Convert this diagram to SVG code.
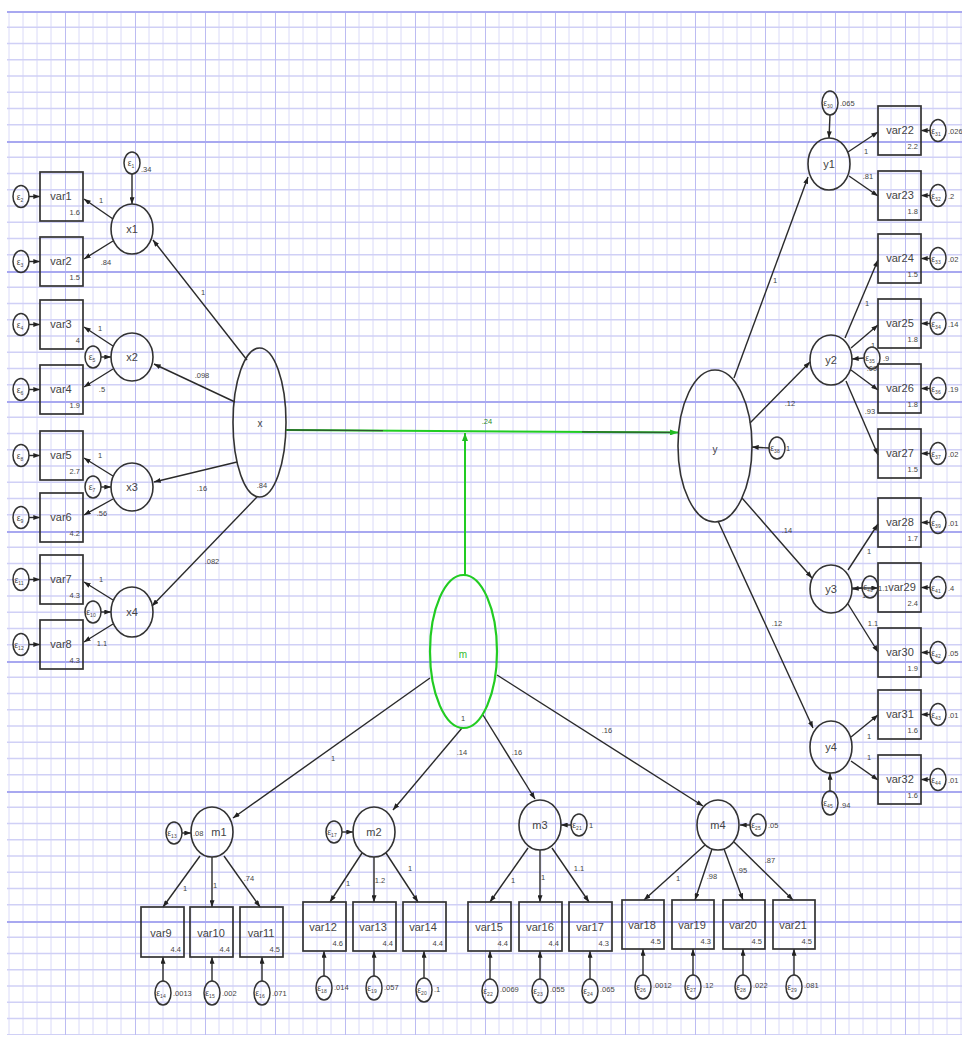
<svg xmlns="http://www.w3.org/2000/svg" width="962" height="1043" viewBox="0 0 962 1043">
<defs>
<pattern id="grid" x="-5" y="11" width="70" height="130" patternUnits="userSpaceOnUse">
<g stroke="#dadaf8" stroke-width="1">
<line x1="14" y1="0" x2="14" y2="130"/><line x1="28" y1="0" x2="28" y2="130"/><line x1="42" y1="0" x2="42" y2="130"/><line x1="56" y1="0" x2="56" y2="130"/>
</g>
<g stroke="#d0d0f6" stroke-width="1.6">
<line x1="0" y1="16.25" x2="70" y2="16.25"/><line x1="0" y1="32.5" x2="70" y2="32.5"/><line x1="0" y1="48.75" x2="70" y2="48.75"/><line x1="0" y1="65" x2="70" y2="65"/><line x1="0" y1="81.25" x2="70" y2="81.25"/><line x1="0" y1="97.5" x2="70" y2="97.5"/><line x1="0" y1="113.75" x2="70" y2="113.75"/>
</g>
<line x1="0.5" y1="0" x2="0.5" y2="130" stroke="#bcbcf2" stroke-width="1"/>
<line x1="0" y1="1" x2="70" y2="1" stroke="#a8a8f0" stroke-width="2"/>
</pattern>
<marker id="ah" viewBox="0 0 8 6" markerWidth="7" markerHeight="5" refX="8" refY="3" orient="auto" markerUnits="userSpaceOnUse"><path d="M0,0 L8,3 L0,6 z" fill="#222"/></marker>
<marker id="ahg" viewBox="0 0 8 6" markerWidth="8" markerHeight="6" refX="8" refY="3" orient="auto" markerUnits="userSpaceOnUse"><path d="M0,0 L8,3 L0,6 z" fill="#22bb22"/></marker>
<style>
.box{fill:none;stroke:#333;stroke-width:1.7}
.lat{fill:none;stroke:#333;stroke-width:1.6}
.err{fill:none;stroke:#333;stroke-width:1.5}
.ln{stroke:#2a2a2a;stroke-width:1.4;fill:none;marker-end:url(#ah)}
.gl{stroke:#22cc22;stroke-width:2;fill:none;marker-end:url(#ahg)}
text{font-family:"Liberation Sans",Arial,sans-serif;fill:#444}
.nm{font-size:11px;text-anchor:middle}
.val{font-size:7.5px;text-anchor:end}
.w{font-size:7.5px;text-anchor:middle}
.wl{font-size:7.5px}
.eps{font-size:8.5px;text-anchor:middle}
.sub{font-size:5px}
</style>
</defs>
<rect x="0" y="0" width="962" height="1043" fill="#fff"/>
<rect x="7" y="11" width="955" height="1024" fill="url(#grid)"/>

<g id="connectors">
<line class="ln" x1="247" y1="360" x2="153" y2="240"/>
<line class="ln" x1="235" y1="402" x2="154" y2="364"/>
<line class="ln" x1="237" y1="462" x2="154" y2="482"/>
<line class="ln" x1="257" y1="497" x2="152" y2="606"/>
<line class="ln" x1="113" y1="219" x2="84" y2="199"/>
<line class="ln" x1="113" y1="241" x2="84" y2="259"/>
<line class="ln" x1="113" y1="346" x2="84" y2="327"/>
<line class="ln" x1="113" y1="369" x2="84" y2="387"/>
<line class="ln" x1="113" y1="476" x2="84" y2="458"/>
<line class="ln" x1="113" y1="499" x2="84" y2="515"/>
<line class="ln" x1="113" y1="600" x2="84" y2="582"/>
<line class="ln" x1="113" y1="624" x2="84" y2="642"/>
<line class="ln" x1="29" y1="196.5" x2="40" y2="196.5"/>
<line class="ln" x1="29" y1="261.5" x2="40" y2="261.5"/>
<line class="ln" x1="29" y1="324.5" x2="40" y2="324.5"/>
<line class="ln" x1="29" y1="389.5" x2="40" y2="389.5"/>
<line class="ln" x1="29" y1="455.5" x2="40" y2="455.5"/>
<line class="ln" x1="29" y1="517.5" x2="40" y2="517.5"/>
<line class="ln" x1="29" y1="579.5" x2="40" y2="579.5"/>
<line class="ln" x1="29" y1="644.5" x2="40" y2="644.5"/>
<line class="ln" x1="132" y1="174" x2="132" y2="204"/>
<line class="ln" x1="101" y1="357" x2="111" y2="357"/>
<line class="ln" x1="101" y1="487" x2="111" y2="487"/>
<line class="ln" x1="101" y1="612" x2="111" y2="612"/>
<line class="ln" x1="734" y1="378" x2="808" y2="177"/>
<line class="ln" x1="750" y1="423" x2="810" y2="362"/>
<line class="ln" x1="742" y1="498" x2="812" y2="578"/>
<line class="ln" x1="718" y1="521" x2="813" y2="728"/>
<line class="ln" x1="769" y1="448" x2="752" y2="447"/>
<line class="ln" x1="848" y1="152" x2="878" y2="132"/>
<line class="ln" x1="849" y1="176" x2="878" y2="196"/>
<line class="ln" x1="845" y1="338" x2="878" y2="260"/>
<line class="ln" x1="851" y1="348" x2="878" y2="325"/>
<line class="ln" x1="851" y1="370" x2="878" y2="390"/>
<line class="ln" x1="846" y1="381" x2="878" y2="455"/>
<line class="ln" x1="848" y1="570" x2="878" y2="524"/>
<line class="ln" x1="852" y1="588" x2="878" y2="588"/>
<line class="ln" x1="848" y1="604" x2="878" y2="652"/>
<line class="ln" x1="851" y1="737" x2="878" y2="715"/>
<line class="ln" x1="851" y1="761" x2="878" y2="780"/>
<line class="ln" x1="830" y1="115" x2="829" y2="138"/>
<line class="ln" x1="864" y1="358" x2="852" y2="359"/>
<line class="ln" x1="862" y1="588" x2="852" y2="589"/>
<line class="ln" x1="830" y1="791" x2="830" y2="773"/>
<line class="ln" x1="930" y1="130.5" x2="921" y2="130.5"/>
<line class="ln" x1="930" y1="195.5" x2="921" y2="195.5"/>
<line class="ln" x1="930" y1="258.5" x2="921" y2="258.5"/>
<line class="ln" x1="930" y1="323.5" x2="921" y2="323.5"/>
<line class="ln" x1="930" y1="388.5" x2="921" y2="388.5"/>
<line class="ln" x1="930" y1="453.5" x2="921" y2="453.5"/>
<line class="ln" x1="930" y1="522.5" x2="921" y2="522.5"/>
<line class="ln" x1="930" y1="587.5" x2="921" y2="587.5"/>
<line class="ln" x1="930" y1="652.5" x2="921" y2="652.5"/>
<line class="ln" x1="930" y1="714.5" x2="921" y2="714.5"/>
<line class="ln" x1="930" y1="779.5" x2="921" y2="779.5"/>
<line class="ln" x1="430" y1="678" x2="233" y2="818"/>
<line class="ln" x1="462" y1="728" x2="393" y2="810"/>
<line class="ln" x1="483" y1="715" x2="535" y2="799"/>
<line class="ln" x1="497" y1="675" x2="703" y2="806"/>
<line class="ln" x1="200" y1="856" x2="163" y2="907"/>
<line class="ln" x1="212" y1="857" x2="212" y2="907"/>
<line class="ln" x1="224" y1="856" x2="260" y2="907"/>
<line class="ln" x1="362" y1="853" x2="330" y2="902"/>
<line class="ln" x1="374" y1="857" x2="374" y2="902"/>
<line class="ln" x1="386" y1="853" x2="418" y2="902"/>
<line class="ln" x1="528" y1="848" x2="490" y2="902"/>
<line class="ln" x1="540" y1="850" x2="540" y2="902"/>
<line class="ln" x1="552" y1="848" x2="589" y2="902"/>
<line class="ln" x1="705" y1="845" x2="644" y2="900"/>
<line class="ln" x1="712" y1="849" x2="695" y2="900"/>
<line class="ln" x1="724" y1="849" x2="743" y2="900"/>
<line class="ln" x1="734" y1="842" x2="793" y2="900"/>
<line class="ln" x1="182" y1="833" x2="191" y2="833"/>
<line class="ln" x1="342" y1="832" x2="353" y2="832"/>
<line class="ln" x1="571" y1="825" x2="561" y2="825"/>
<line class="ln" x1="750" y1="825" x2="740" y2="825"/>
<line class="ln" x1="163" y1="981" x2="163" y2="957"/>
<line class="ln" x1="212" y1="981" x2="212" y2="957"/>
<line class="ln" x1="262" y1="981" x2="262" y2="957"/>
<line class="ln" x1="324" y1="976" x2="324" y2="951"/>
<line class="ln" x1="374" y1="976" x2="374" y2="951"/>
<line class="ln" x1="424" y1="978" x2="424" y2="951"/>
<line class="ln" x1="490" y1="979" x2="490" y2="951"/>
<line class="ln" x1="540" y1="979" x2="540" y2="951"/>
<line class="ln" x1="590" y1="979" x2="590" y2="951"/>
<line class="ln" x1="643" y1="975" x2="643" y2="949"/>
<line class="ln" x1="693" y1="975" x2="693" y2="949"/>
<line class="ln" x1="743" y1="975" x2="743" y2="949"/>
<line class="ln" x1="794" y1="975" x2="794" y2="949"/>
<line class="gl" x1="286" y1="430" x2="678" y2="432.5"/>
<line x1="287" y1="430" x2="383" y2="430.6" stroke="#2d5a2d" stroke-width="1.4"/>
<line x1="582" y1="431.9" x2="670" y2="432.4" stroke="#2d5a2d" stroke-width="1.4"/>
<line class="gl" x1="465" y1="575" x2="465" y2="433"/>
<g class="w">
<text x="101" y="203">1</text><text x="106" y="265">.84</text>
<text x="100" y="331">1</text><text x="102" y="392">.5</text>
<text x="100" y="458">1</text><text x="102" y="516">.56</text>
<text x="101" y="582">1</text><text x="102" y="646">1.1</text>
<text x="203" y="295">1</text><text x="202" y="378">.098</text>
<text x="202" y="491">.16</text><text x="212" y="564">.082</text>
<text x="775" y="283">1</text><text x="790" y="406">.12</text>
<text x="787" y="533">.14</text><text x="777" y="626">.12</text>
<text x="866" y="154">1</text><text x="868" y="179">.81</text>
<text x="867" y="306">1</text><text x="870" y="414">.93</text>
<text x="869" y="554">1</text><text x="873" y="626">1.1</text>
<text x="869" y="739">1</text><text x="869" y="760">1</text>
<text x="333" y="761">1</text><text x="462" y="755">.14</text>
<text x="517" y="755">.16</text><text x="607" y="733">.16</text>
<text x="185" y="891">1</text><text x="215" y="888">1</text><text x="249" y="881">.74</text>
<text x="348" y="886">1</text><text x="380" y="883">1.2</text><text x="410" y="871">1</text>
<text x="513" y="883">1</text><text x="543" y="880">1</text><text x="579" y="871">1.1</text>
<text x="678" y="881">1</text><text x="712" y="879">.98</text><text x="742" y="873">.95</text><text x="770" y="863">.87</text>
</g>
<text x="487" y="424" class="w" style="fill:#2a8a2a">.24</text>
</g>

<g id="x"><ellipse class="lat" cx="259.5" cy="422.5" rx="26.5" ry="74.5"/><text class="nm" x="260" y="427" style="font-size:10px">x</text><text class="w" x="262" y="488">.84</text></g>
<g id="y"><ellipse class="lat" cx="715" cy="446" rx="37" ry="76"/><text class="nm" x="715" y="453" style="font-size:10px">y</text></g>
<g id="m"><ellipse cx="463.5" cy="651.5" rx="33.5" ry="76.5" fill="none" stroke="#22cc22" stroke-width="2.2"/><text class="nm" x="463" y="658" style="font-size:10px;fill:#33bb33">m</text><text class="w" x="463" y="721">1</text></g>

<g id="x1"><ellipse class="lat" cx="132" cy="229" rx="21" ry="25"/><text class="nm" x="132" y="233">x1</text></g>
<g id="x2"><ellipse class="lat" cx="132" cy="357" rx="21" ry="24"/><text class="nm" x="132" y="361">x2</text></g>
<g id="x3"><ellipse class="lat" cx="132" cy="487" rx="21" ry="24"/><text class="nm" x="132" y="491">x3</text></g>
<g id="x4"><ellipse class="lat" cx="132" cy="612" rx="21" ry="25"/><text class="nm" x="132" y="616">x4</text></g>

<g id="var1"><rect class="box" x="40" y="172" width="43" height="49"/><text class="nm" x="61" y="200">var1</text><text class="val" x="80" y="215">1.6</text></g>
<g id="var2"><rect class="box" x="40" y="237" width="43" height="49"/><text class="nm" x="61" y="265">var2</text><text class="val" x="80" y="280">1.5</text></g>
<g id="var3"><rect class="box" x="40" y="300" width="43" height="49"/><text class="nm" x="61" y="328">var3</text><text class="val" x="80" y="343">4</text></g>
<g id="var4"><rect class="box" x="40" y="365" width="43" height="49"/><text class="nm" x="61" y="393">var4</text><text class="val" x="80" y="408">1.9</text></g>
<g id="var5"><rect class="box" x="40" y="431" width="43" height="49"/><text class="nm" x="61" y="459">var5</text><text class="val" x="80" y="474">2.7</text></g>
<g id="var6"><rect class="box" x="40" y="493" width="43" height="49"/><text class="nm" x="61" y="521">var6</text><text class="val" x="80" y="536">4.2</text></g>
<g id="var7"><rect class="box" x="40" y="555" width="43" height="49"/><text class="nm" x="61" y="583">var7</text><text class="val" x="80" y="598">4.3</text></g>
<g id="var8"><rect class="box" x="40" y="620" width="43" height="49"/><text class="nm" x="61" y="648">var8</text><text class="val" x="80" y="663">4.3</text></g>

<g id="e1"><ellipse class="err" cx="132" cy="163" rx="8" ry="11"/><text class="eps" x="131" y="166">ε<tspan class="sub" dy="2">1</tspan></text><text class="wl" x="141" y="172">.34</text></g>
<g id="e2"><ellipse class="err" cx="21" cy="196.5" rx="8" ry="11"/><text class="eps" x="20" y="199.5">ε<tspan class="sub" dy="2">2</tspan></text></g>
<g id="e3"><ellipse class="err" cx="21" cy="261.5" rx="8" ry="11"/><text class="eps" x="20" y="264.5">ε<tspan class="sub" dy="2">3</tspan></text></g>
<g id="e4"><ellipse class="err" cx="21" cy="324.5" rx="8" ry="11"/><text class="eps" x="20" y="327.5">ε<tspan class="sub" dy="2">4</tspan></text></g>
<g id="e5"><ellipse class="err" cx="93" cy="357" rx="8" ry="11"/><text class="eps" x="92" y="360">ε<tspan class="sub" dy="2">5</tspan></text></g>
<g id="e6"><ellipse class="err" cx="21" cy="389.5" rx="8" ry="11"/><text class="eps" x="20" y="392.5">ε<tspan class="sub" dy="2">6</tspan></text></g>
<g id="e7"><ellipse class="err" cx="93" cy="487" rx="8" ry="11"/><text class="eps" x="92" y="490">ε<tspan class="sub" dy="2">7</tspan></text></g>
<g id="e8"><ellipse class="err" cx="21" cy="455.5" rx="8" ry="11"/><text class="eps" x="20" y="458.5">ε<tspan class="sub" dy="2">8</tspan></text></g>
<g id="e9"><ellipse class="err" cx="21" cy="517.5" rx="8" ry="11"/><text class="eps" x="20" y="520.5">ε<tspan class="sub" dy="2">9</tspan></text></g>
<g id="e10"><ellipse class="err" cx="93" cy="612" rx="8" ry="11"/><text class="eps" x="91" y="615">ε<tspan class="sub" dy="2">10</tspan></text></g>
<g id="e11"><ellipse class="err" cx="21" cy="579.5" rx="8" ry="11"/><text class="eps" x="19" y="582.5">ε<tspan class="sub" dy="2">11</tspan></text></g>
<g id="e12"><ellipse class="err" cx="21" cy="644.5" rx="8" ry="11"/><text class="eps" x="19" y="647.5">ε<tspan class="sub" dy="2">12</tspan></text></g>

<g id="y1"><ellipse class="lat" cx="829" cy="164" rx="21" ry="26"/><text class="nm" x="829" y="168">y1</text></g>
<g id="y2"><ellipse class="lat" cx="831" cy="360" rx="21" ry="25"/><text class="nm" x="831" y="364">y2</text></g>
<g id="y3"><ellipse class="lat" cx="831" cy="589" rx="21" ry="24"/><text class="nm" x="831" y="593">y3</text></g>
<g id="y4"><ellipse class="lat" cx="831" cy="747" rx="21" ry="26"/><text class="nm" x="831" y="751">y4</text></g>

<g id="var22"><rect class="box" x="878" y="106" width="43" height="49"/><text class="nm" x="900" y="134">var22</text><text class="val" x="918" y="149">2.2</text></g>
<g id="var23"><rect class="box" x="878" y="171" width="43" height="49"/><text class="nm" x="900" y="199">var23</text><text class="val" x="918" y="214">1.8</text></g>
<g id="var24"><rect class="box" x="878" y="234" width="43" height="49"/><text class="nm" x="900" y="262">var24</text><text class="val" x="918" y="277">1.5</text></g>
<g id="var25"><rect class="box" x="878" y="299" width="43" height="49"/><text class="nm" x="900" y="327">var25</text><text class="val" x="918" y="342">1.8</text></g>
<g id="var26"><rect class="box" x="878" y="364" width="43" height="49"/><text class="nm" x="900" y="392">var26</text><text class="val" x="918" y="407">1.8</text></g>
<g id="var27"><rect class="box" x="878" y="429" width="43" height="49"/><text class="nm" x="900" y="457">var27</text><text class="val" x="918" y="472">1.5</text></g>
<g id="var28"><rect class="box" x="878" y="498" width="43" height="49"/><text class="nm" x="900" y="526">var28</text><text class="val" x="918" y="541">1.7</text></g>
<g id="var29"><rect class="box" x="878" y="563" width="43" height="49"/><text class="nm" x="902" y="591">var29</text><text class="val" x="918" y="606">2.4</text></g>
<g id="var30"><rect class="box" x="878" y="628" width="43" height="49"/><text class="nm" x="900" y="656">var30</text><text class="val" x="918" y="671">1.9</text></g>
<g id="var31"><rect class="box" x="878" y="690" width="43" height="49"/><text class="nm" x="900" y="718">var31</text><text class="val" x="918" y="733">1.6</text></g>
<g id="var32"><rect class="box" x="878" y="755" width="43" height="49"/><text class="nm" x="900" y="783">var32</text><text class="val" x="918" y="798">1.6</text></g>

<g id="e30"><ellipse class="err" cx="830" cy="103" rx="8" ry="12"/><text class="eps" x="828" y="106">ε<tspan class="sub" dy="2">30</tspan></text><text class="wl" x="840" y="106">.065</text></g>
<g id="e31"><ellipse class="err" cx="938" cy="130.5" rx="8" ry="11"/><text class="eps" x="936" y="133.5">ε<tspan class="sub" dy="2">31</tspan></text><text class="wl" x="948" y="134">.026</text></g>
<g id="e32"><ellipse class="err" cx="938" cy="195.5" rx="8" ry="11"/><text class="eps" x="936" y="198.5">ε<tspan class="sub" dy="2">32</tspan></text><text class="wl" x="948" y="199">.2</text></g>
<g id="e33"><ellipse class="err" cx="938" cy="258.5" rx="8" ry="11"/><text class="eps" x="936" y="261.5">ε<tspan class="sub" dy="2">33</tspan></text><text class="wl" x="948" y="262">.02</text></g>
<g id="e34"><ellipse class="err" cx="938" cy="323.5" rx="8" ry="11"/><text class="eps" x="936" y="326.5">ε<tspan class="sub" dy="2">34</tspan></text><text class="wl" x="948" y="327">.14</text></g>
<g id="e35"><ellipse class="err" cx="872" cy="358" rx="8" ry="11"/><text class="eps" x="870" y="361">ε<tspan class="sub" dy="2">35</tspan></text><text class="wl" x="883" y="361">.9</text><text class="w" x="872" y="348">.1</text><text class="w" x="872" y="371">.09</text></g>
<g id="e36"><ellipse class="err" cx="938" cy="388.5" rx="8" ry="11"/><text class="eps" x="936" y="391.5">ε<tspan class="sub" dy="2">36</tspan></text><text class="wl" x="948" y="392">.19</text></g>
<g id="e37"><ellipse class="err" cx="938" cy="453.5" rx="8" ry="11"/><text class="eps" x="936" y="456.5">ε<tspan class="sub" dy="2">37</tspan></text><text class="wl" x="948" y="457">.02</text></g>
<g id="e38"><ellipse class="err" cx="777" cy="448" rx="8" ry="11"/><text class="eps" x="775" y="451">ε<tspan class="sub" dy="2">38</tspan></text><text class="wl" x="786" y="451">1</text></g>
<g id="e39"><ellipse class="err" cx="938" cy="522.5" rx="8" ry="11"/><text class="eps" x="936" y="525.5">ε<tspan class="sub" dy="2">39</tspan></text><text class="wl" x="948" y="526">.01</text></g>
<g id="e40"><ellipse class="err" cx="870" cy="587" rx="8" ry="11"/><text class="eps" x="868" y="590">ε<tspan class="sub" dy="2">40</tspan></text><text class="w" x="864" y="598">1</text><text class="wl" x="878" y="591">1.1</text></g>
<g id="e41"><ellipse class="err" cx="938" cy="587.5" rx="8" ry="11"/><text class="eps" x="936" y="590.5">ε<tspan class="sub" dy="2">41</tspan></text><text class="wl" x="948" y="591">.4</text></g>
<g id="e42"><ellipse class="err" cx="938" cy="652.5" rx="8" ry="11"/><text class="eps" x="936" y="655.5">ε<tspan class="sub" dy="2">42</tspan></text><text class="wl" x="948" y="656">.05</text></g>
<g id="e43"><ellipse class="err" cx="938" cy="714.5" rx="8" ry="11"/><text class="eps" x="936" y="717.5">ε<tspan class="sub" dy="2">43</tspan></text><text class="wl" x="948" y="718">.01</text></g>
<g id="e44"><ellipse class="err" cx="938" cy="779.5" rx="8" ry="11"/><text class="eps" x="936" y="782.5">ε<tspan class="sub" dy="2">44</tspan></text><text class="wl" x="948" y="783">.01</text></g>
<g id="e45"><ellipse class="err" cx="830" cy="803" rx="8" ry="12"/><text class="eps" x="828" y="806">ε<tspan class="sub" dy="2">45</tspan></text><text class="wl" x="840" y="808">.94</text></g>

<g id="m1"><ellipse class="lat" cx="212" cy="832" rx="21" ry="25"/><text class="nm" x="219" y="836">m1</text><text class="wl" x="193" y="836">.08</text></g>
<g id="m2"><ellipse class="lat" cx="374" cy="832" rx="21" ry="25"/><text class="nm" x="374" y="836">m2</text></g>
<g id="m3"><ellipse class="lat" cx="540" cy="825" rx="21" ry="25"/><text class="nm" x="540" y="829">m3</text></g>
<g id="m4"><ellipse class="lat" cx="718" cy="825" rx="21" ry="25"/><text class="nm" x="718" y="829">m4</text></g>

<g id="var9"><rect class="box" x="141" y="907" width="43" height="50"/><text class="nm" x="161" y="937">var9</text><text class="val" x="181" y="952">4.4</text></g>
<g id="var10"><rect class="box" x="190" y="907" width="43" height="50"/><text class="nm" x="211" y="937">var10</text><text class="val" x="230" y="952">4.4</text></g>
<g id="var11"><rect class="box" x="240" y="907" width="43" height="50"/><text class="nm" x="261" y="937">var11</text><text class="val" x="280" y="952">4.5</text></g>
<g id="var12"><rect class="box" x="303" y="902" width="43" height="49"/><text class="nm" x="323" y="931">var12</text><text class="val" x="343" y="946">4.6</text></g>
<g id="var13"><rect class="box" x="353" y="902" width="43" height="49"/><text class="nm" x="373" y="931">var13</text><text class="val" x="393" y="946">4.4</text></g>
<g id="var14"><rect class="box" x="403" y="902" width="43" height="49"/><text class="nm" x="423" y="931">var14</text><text class="val" x="443" y="946">4.4</text></g>
<g id="var15"><rect class="box" x="468" y="902" width="43" height="49"/><text class="nm" x="489" y="931">var15</text><text class="val" x="508" y="946">4.4</text></g>
<g id="var16"><rect class="box" x="519" y="902" width="43" height="49"/><text class="nm" x="540" y="931">var16</text><text class="val" x="559" y="946">4.4</text></g>
<g id="var17"><rect class="box" x="569" y="902" width="43" height="49"/><text class="nm" x="590" y="931">var17</text><text class="val" x="609" y="946">4.3</text></g>
<g id="var18"><rect class="box" x="622" y="900" width="42" height="49"/><text class="nm" x="642" y="929">var18</text><text class="val" x="661" y="944">4.5</text></g>
<g id="var19"><rect class="box" x="672" y="900" width="42" height="49"/><text class="nm" x="692" y="929">var19</text><text class="val" x="711" y="944">4.3</text></g>
<g id="var20"><rect class="box" x="723" y="900" width="42" height="49"/><text class="nm" x="743" y="929">var20</text><text class="val" x="762" y="944">4.5</text></g>
<g id="var21"><rect class="box" x="773" y="900" width="42" height="49"/><text class="nm" x="793" y="929">var21</text><text class="val" x="812" y="944">4.5</text></g>

<g id="e13"><ellipse class="err" cx="174" cy="833" rx="8" ry="11"/><text class="eps" x="172" y="836">ε<tspan class="sub" dy="2">13</tspan></text></g>
<g id="e14"><ellipse class="err" cx="163" cy="993" rx="8" ry="12"/><text class="eps" x="161" y="996">ε<tspan class="sub" dy="2">14</tspan></text><text class="wl" x="173" y="996">.0013</text></g>
<g id="e15"><ellipse class="err" cx="212" cy="993" rx="8" ry="12"/><text class="eps" x="210" y="996">ε<tspan class="sub" dy="2">15</tspan></text><text class="wl" x="222" y="996">.002</text></g>
<g id="e16"><ellipse class="err" cx="262" cy="993" rx="8" ry="12"/><text class="eps" x="260" y="996">ε<tspan class="sub" dy="2">16</tspan></text><text class="wl" x="272" y="996">.071</text></g>
<g id="e17"><ellipse class="err" cx="334" cy="832" rx="8" ry="11"/><text class="eps" x="332" y="835">ε<tspan class="sub" dy="2">17</tspan></text></g>
<g id="e18"><ellipse class="err" cx="324" cy="988" rx="8" ry="12"/><text class="eps" x="322" y="991">ε<tspan class="sub" dy="2">18</tspan></text><text class="wl" x="334" y="990">.014</text></g>
<g id="e19"><ellipse class="err" cx="374" cy="988" rx="8" ry="12"/><text class="eps" x="372" y="991">ε<tspan class="sub" dy="2">19</tspan></text><text class="wl" x="384" y="990">.057</text></g>
<g id="e20"><ellipse class="err" cx="424" cy="990" rx="8" ry="12"/><text class="eps" x="422" y="993">ε<tspan class="sub" dy="2">20</tspan></text><text class="wl" x="434" y="992">.1</text></g>
<g id="e21"><ellipse class="err" cx="579" cy="825" rx="8" ry="11"/><text class="eps" x="577" y="828">ε<tspan class="sub" dy="2">21</tspan></text><text class="wl" x="589" y="828">1</text></g>
<g id="e22"><ellipse class="err" cx="490" cy="991" rx="8" ry="12"/><text class="eps" x="488" y="994">ε<tspan class="sub" dy="2">22</tspan></text><text class="wl" x="500" y="992">.0069</text></g>
<g id="e23"><ellipse class="err" cx="540" cy="991" rx="8" ry="12"/><text class="eps" x="538" y="994">ε<tspan class="sub" dy="2">23</tspan></text><text class="wl" x="550" y="992">.055</text></g>
<g id="e24"><ellipse class="err" cx="590" cy="991" rx="8" ry="12"/><text class="eps" x="588" y="994">ε<tspan class="sub" dy="2">24</tspan></text><text class="wl" x="600" y="992">.065</text></g>
<g id="e25"><ellipse class="err" cx="758" cy="825" rx="8" ry="11"/><text class="eps" x="756" y="828">ε<tspan class="sub" dy="2">25</tspan></text><text class="wl" x="768" y="828">.05</text></g>
<g id="e26"><ellipse class="err" cx="643" cy="987" rx="8" ry="12"/><text class="eps" x="641" y="990">ε<tspan class="sub" dy="2">26</tspan></text><text class="wl" x="653" y="988">.0012</text></g>
<g id="e27"><ellipse class="err" cx="693" cy="987" rx="8" ry="12"/><text class="eps" x="691" y="990">ε<tspan class="sub" dy="2">27</tspan></text><text class="wl" x="703" y="988">.12</text></g>
<g id="e28"><ellipse class="err" cx="743" cy="987" rx="8" ry="12"/><text class="eps" x="741" y="990">ε<tspan class="sub" dy="2">28</tspan></text><text class="wl" x="753" y="988">.022</text></g>
<g id="e29"><ellipse class="err" cx="794" cy="987" rx="8" ry="12"/><text class="eps" x="792" y="990">ε<tspan class="sub" dy="2">29</tspan></text><text class="wl" x="804" y="988">.081</text></g>
</svg>
